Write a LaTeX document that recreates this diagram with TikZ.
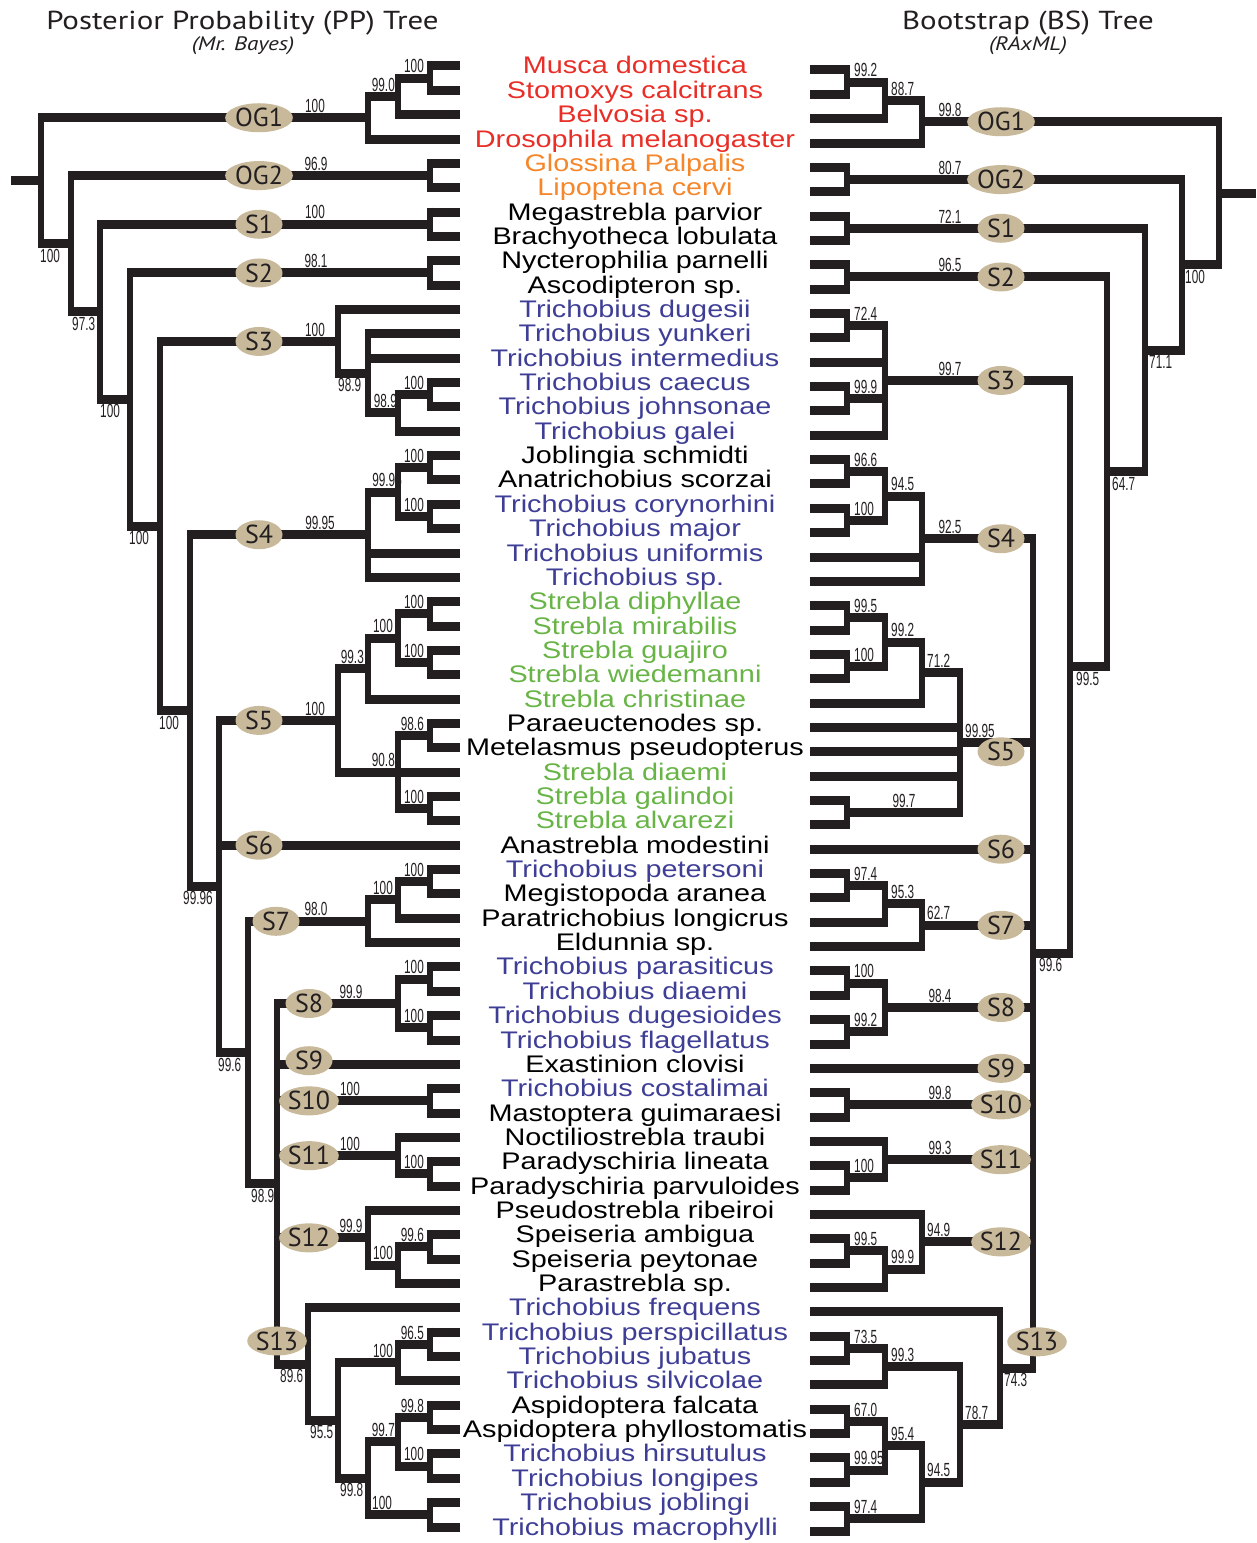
\documentclass[tikz,border=0pt]{standalone}
\usepackage{fontspec}
\setmainfont{Liberation Sans}
\newfontfamily\taxfont[FakeStretch=1.2]{Liberation Sans}
\newfontfamily\bsfont[FakeStretch=0.62]{Liberation Sans}
\newfontfamily\headfont[FakeStretch=1.19]{PT Sans}
\newfontfamily\grpfont{PT Sans}
\usetikzlibrary{shapes.geometric}
\definecolor{pred}{RGB}{232,46,38}
\definecolor{porange}{RGB}{245,134,42}
\definecolor{pblue}{RGB}{62,62,150}
\definecolor{pgreen}{RGB}{104,180,70}
\definecolor{ptan}{RGB}{200,185,155}
\definecolor{inkc}{RGB}{35,31,32}
\tikzset{
    hbr/.style={line width=9pt, color=inkc},
    vbr/.style={line width=6pt, color=inkc, shorten <=-4.5pt, shorten >=-4.5pt},
    lbl/.style={font=\bsfont\fontsize{19}{19}\selectfont, inner sep=1pt, text=inkc},
    ul/.style={lbl, anchor=south east, yshift=4pt},
    ur/.style={lbl, anchor=south west, yshift=4pt},
    ab/.style={lbl, anchor=south, yshift=4pt},
    bl/.style={lbl, anchor=north west, yshift=-4pt},
    grp/.style={ellipse, fill=ptan, minimum width=47pt, minimum height=29pt, inner sep=0pt,
        font=\grpfont\fontsize{26}{26}\selectfont, text=inkc},
    taxon/.style={font=\taxfont\fontsize{24}{24}\selectfont, anchor=base, yshift=-8pt, inner sep=0pt},
    head/.style={font=\headfont\fontsize{26}{26}\selectfont, anchor=base, text=inkc},
    subhead/.style={font=\headfont\itshape\fontsize{19.5}{19.5}\selectfont, anchor=base, text=inkc}
}
\begin{document}
\begin{tikzpicture}[x=1pt, y=-24.35pt]
\useasboundingbox (0,-1.7105) rectangle (1256,61.657);

% titles
\node[head] (pptitle) at (242.5,-0.507) {Posterior Probability (PP) Tree};
\node[subhead] (ppsub) at (243,0.384) {(Mr. Bayes)};
\node[head] (bstitle) at (1028,-0.507) {Bootstrap (BS) Tree};
\node[subhead] (bssub) at (1028,0.384) {(RAxML)};

% taxa
\foreach \c/\t [count=\i] in {pred/Musca domestica, pred/Stomoxys calcitrans, pred/Belvosia sp.,
    pred/Drosophila melanogaster, porange/Glossina Palpalis, porange/Lipoptena cervi,
    black/Megastrebla parvior, black/Brachyotheca lobulata, black/Nycterophilia parnelli,
    black/Ascodipteron sp., pblue/Trichobius dugesii, pblue/Trichobius yunkeri,
    pblue/Trichobius intermedius, pblue/Trichobius caecus, pblue/Trichobius johnsonae,
    pblue/Trichobius galei, black/Joblingia schmidti, black/Anatrichobius scorzai,
    pblue/Trichobius corynorhini, pblue/Trichobius major, pblue/Trichobius uniformis,
    pblue/Trichobius sp., pgreen/Strebla diphyllae, pgreen/Strebla mirabilis,
    pgreen/Strebla guajiro, pgreen/Strebla wiedemanni, pgreen/Strebla christinae,
    black/Paraeuctenodes sp., black/Metelasmus pseudopterus, pgreen/Strebla diaemi,
    pgreen/Strebla galindoi, pgreen/Strebla alvarezi, black/Anastrebla modestini,
    pblue/Trichobius petersoni, black/Megistopoda aranea, black/Paratrichobius longicrus,
    black/Eldunnia sp., pblue/Trichobius parasiticus, pblue/Trichobius diaemi,
    pblue/Trichobius dugesioides, pblue/Trichobius flagellatus, black/Exastinion clovisi,
    pblue/Trichobius costalimai, black/Mastoptera guimaraesi, black/Noctiliostrebla traubi,
    black/Paradyschiria lineata, black/Paradyschiria parvuloides, black/Pseudostrebla ribeiroi,
    black/Speiseria ambigua, black/Speiseria peytonae, black/Parastrebla sp.,
    pblue/Trichobius frequens, pblue/Trichobius perspicillatus, pblue/Trichobius jubatus,
    pblue/Trichobius silvicolae, black/Aspidoptera falcata, black/Aspidoptera phyllostomatis,
    pblue/Trichobius hirsutulus, pblue/Trichobius longipes, pblue/Trichobius joblingi,
    pblue/Trichobius macrophylli}
    \node[taxon, text=\c] (t\i) at (635,\i) {\t};

% ---------------- PP tree (left) ----------------
% supports
\node[ul] at (425,1.5) {100};
\node[ul] at (396,2.25) {99.0};
\node[ab] at (315,3.125) {100};
\node[ab] at (316,5.5) {96.9};
\node[ab] at (315,7.5) {100};
\node[ab] at (316,9.5) {98.1};
\node[bl] at (39,8.299) {100};
\node[bl] at (71,11.098) {97.3};
\node[bl] at (99,14.696) {100};
\node[bl] at (128,19.893) {100};
\node[bl] at (158,27.473) {100};
\node[bl] at (182,34.695) {99.96};
\node[bl] at (217,41.516) {99.6};
\node[bl] at (250,46.906) {98.9};
\node[bl] at (279,54.3125) {89.6};
\node[bl] at (309,56.625) {95.5};
\node[bl] at (339,59) {99.8};
\node[ab] at (315,12.3125) {100};
\node[bl] at (337,13.625) {98.9};
\node[ul] at (398,15.25) {98.9};
\node[ul] at (425,14.5) {100};
\node[ul] at (425,17.5) {100};
\node[ul] at (403,18.5) {99.95};
\node[ul] at (425,19.5) {100};
\node[ab] at (320,20.25) {99.95};
\node[ul] at (425,23.5) {100};
\node[ul] at (394,24.5) {100};
\node[ul] at (425,25.5) {100};
\node[ul] at (365,25.75) {99.3};
\node[ab] at (315,27.875) {100};
\node[ul] at (425,28.5) {98.6};
\node[ul] at (396,30) {90.8};
\node[ul] at (425,31.5) {100};
\node[ul] at (425,34.5) {100};
\node[ul] at (394,35.25) {100};
\node[ab] at (316,36.125) {98.0};
\node[ul] at (425,38.5) {100};
\node[ul] at (425,40.5) {100};
\node[ab] at (351,39.5) {99.9};
\node[ab] at (350,43.5) {100};
\node[ab] at (350,45.75) {100};
\node[ul] at (425,46.5) {100};
\node[ab] at (351,49.125) {99.9};
\node[ul] at (425,49.5) {99.6};
\node[ul] at (394,50.25) {100};
\node[ul] at (425,53.5) {96.5};
\node[ul] at (394,54.25) {100};
\node[ul] at (425,56.5) {99.8};
\node[ul] at (396,57.5) {99.7};
\node[ul] at (425,58.5) {100};
\node[ur] at (371,60.5) {100};

% tips
\foreach \r in {1,2,5,6,7,8,9,10,14,15,17,18,19,20,23,24,25,26,28,29,31,32,34,35,
    38,39,40,41,43,44,46,47,49,50,53,54,56,57,58,59,60,61}
    \draw[hbr] (430,\r) -- (460,\r);
\foreach \r in {3,16,30,36,45,51,55}
    \draw[hbr] (398,\r) -- (460,\r);
\foreach \r in {4,12,13,21,22,27,37,48}
    \draw[hbr] (368,\r) -- (460,\r);
\draw[hbr] (338,11) -- (460,11);
\draw[hbr] (308,52) -- (460,52);
\draw[hbr] (219,33) -- (460,33);
\draw[hbr] (277,42) -- (460,42);
% inner branches
\foreach \xa/\xb/\y in {398/430/1.5, 398/430/14.5, 398/430/17.5, 398/430/19.5, 398/430/23.5,
    398/430/25.5, 398/430/28.5, 398/430/31.5, 398/430/34.5, 398/430/38.5, 398/430/40.5,
    398/430/46.5, 398/430/49.5, 398/430/53.5, 398/430/56.5, 398/430/58.5, 368/430/60.5,
    71/430/5.5, 100/430/7.5, 130/430/9.5, 277/430/43.5,
    368/398/2.25, 368/398/15.25, 368/398/18.5, 368/398/24.5, 368/398/35.25, 368/398/50.25,
    368/398/57.5, 338/398/30, 338/398/54.25, 277/398/39.5, 277/398/45.75,
    41/368/3.125, 338/368/13.625, 338/368/25.75, 338/368/59, 190/368/20.25, 248/368/36.125,
    277/368/49.125, 160/338/12.3125, 219/338/27.875, 308/338/56.625, 277/308/54.3125,
    248/277/46.906, 219/248/41.516, 190/219/34.695, 160/190/27.473, 130/160/19.893,
    100/130/14.696, 71/100/11.098, 41/71/8.299, 11/41/5.712}
    \draw[hbr] (\xa,\y) -- (\xb,\y);
\foreach \r in {1,5,7,9,14,17,19,23,25,28,31,34,38,40,43,46,49,53,56,58,60}
    \draw[vbr] (430,\r) -- (430,{\r+1});
\foreach \x/\a/\b in {398/1.5/3, 398/14.5/16, 398/17.5/19.5, 398/23.5/25.5, 398/28.5/31.5,
    398/34.5/36, 398/38.5/40.5, 398/45/46.5, 398/49.5/51, 398/53.5/55, 398/56.5/58.5,
    368/2.25/4, 368/12/15.25, 368/18.5/22, 368/24.5/27, 368/35.25/37, 368/48/50.25,
    368/57.5/60.5, 338/11/13.625, 338/25.75/30, 338/54.25/59, 308/52/56.625,
    277/39.5/54.3125, 248/36.125/46.906, 219/27.875/41.516, 190/20.25/34.695,
    160/12.3125/27.473, 130/9.5/19.893, 100/7.5/14.696, 71/5.5/11.098, 41/3.125/8.299}
    \draw[vbr] (\x,\a) -- (\x,\b);
% clades
\node[grp] (ppOG1) at (259,3.125) {OG1};
\node[grp] (ppOG2) at (259,5.5) {OG2};
\node[grp] (ppS1) at (259,7.5) {S1};
\node[grp] (ppS2) at (259,9.5) {S2};
\node[grp] (ppS3) at (259,12.3125) {S3};
\node[grp] (ppS4) at (259,20.25) {S4};
\node[grp] (ppS5) at (259,27.875) {S5};
\node[grp] (ppS6) at (259,33) {S6};
\node[grp] (ppS7) at (276,36.125) {S7};
\node[grp] (ppS8) at (309,39.5) {S8};
\node[grp] (ppS9) at (309,41.85) {S9};
\node[grp] (ppS10) at (309,43.5) {S10};
\node[grp] (ppS11) at (309,45.75) {S11};
\node[grp] (ppS12) at (309,49.125) {S12};
\node[grp] (ppS13) at (277,53.36) {S13};

% ---------------- BS tree (right) ----------------
\begin{scope}[yshift=-4pt]
% supports
\node[ur] at (853,1.5) {99.2};
\node[ur] at (890,2.25) {88.7};
\node[ab] at (950,3.125) {99.8};
\node[ab] at (950,5.5) {80.7};
\node[ab] at (950,7.5) {72.1};
\node[ab] at (950,9.5) {96.5};
\node[bl] at (1184,9.002) {100};
\node[bl] at (1148,12.504) {71.1};
\node[bl] at (1111,17.508) {64.7};
\node[bl] at (1075,25.516) {99.5};
\node[bl] at (1038,37.281) {99.6};
\node[bl] at (1003,54.3125) {74.3};
\node[ur] at (853,11.5) {72.4};
\node[ur] at (853,14.5) {99.9};
\node[ab] at (950,13.75) {99.7};
\node[ur] at (853,17.5) {96.6};
\node[ur] at (890,18.5) {94.5};
\node[ur] at (853,19.5) {100};
\node[ab] at (950,20.25) {92.5};
\node[ur] at (853,23.5) {99.5};
\node[ur] at (890,24.5) {99.2};
\node[ur] at (853,25.5) {100};
\node[ur] at (926,25.75) {71.2};
\node[ur] at (964,28.625) {99.95};
\node[ab] at (904,31.5) {99.7};
\node[ur] at (853,34.5) {97.4};
\node[ur] at (890,35.25) {95.3};
\node[ur] at (926,36.125) {62.7};
\node[ur] at (853,38.5) {100};
\node[ur] at (853,40.5) {99.2};
\node[ab] at (940,39.5) {98.4};
\node[ab] at (940,43.5) {99.8};
\node[ab] at (940,45.75) {99.3};
\node[ur] at (853,46.5) {100};
\node[ur] at (926,49.125) {94.9};
\node[ur] at (853,49.5) {99.5};
\node[ur] at (890,50.25) {99.9};
\node[ur] at (853,53.5) {73.5};
\node[ur] at (890,54.25) {99.3};
\node[ur] at (964,56.625) {78.7};
\node[ur] at (853,56.5) {67.0};
\node[ur] at (890,57.5) {95.4};
\node[ur] at (853,58.5) {99.95};
\node[ur] at (926,59) {94.5};
\node[ur] at (853,60.5) {97.4};

% tips
\foreach \r in {1,2,5,6,7,8,9,10,11,12,14,15,17,18,19,20,23,24,25,26,31,32,34,35,
    38,39,40,41,43,44,46,47,49,50,53,54,56,57,58,59,60,61}
    \draw[hbr] (810,\r) -- (847,\r);
\foreach \r in {3,13,16,36,45,51,55}
    \draw[hbr] (810,\r) -- (885,\r);
\foreach \r in {4,21,22,27,37,48}
    \draw[hbr] (810,\r) -- (922,\r);
\foreach \r in {28,29,30}
    \draw[hbr] (810,\r) -- (960,\r);
\draw[hbr] (810,52) -- (1000,52);
\draw[hbr] (810,33) -- (1033,33);
\draw[hbr] (810,42) -- (1033,42);
% inner branches
\foreach \xa/\xb/\y in {847/885/1.5, 847/885/11.5, 847/885/14.5, 847/885/17.5, 847/885/19.5,
    847/885/23.5, 847/885/25.5, 847/885/34.5, 847/885/38.5, 847/885/40.5, 847/885/46.5,
    847/885/49.5, 847/885/53.5, 847/885/56.5, 847/885/58.5, 847/960/31.5, 847/922/60.5,
    847/1182/5.5, 847/1145/7.5, 847/1107/9.5, 847/1033/43.5,
    885/922/2.25, 885/922/18.5, 885/922/24.5, 885/922/35.25, 885/922/50.25, 885/922/57.5,
    885/960/54.25, 885/1070/13.75, 885/1033/39.5, 885/1033/45.75,
    922/1219/3.125, 922/1033/20.25, 922/1033/36.125, 922/1033/49.125, 922/960/25.75,
    922/960/59, 960/1033/28.625, 960/1000/56.625, 1000/1033/54.3125,
    1033/1070/37.281, 1070/1107/25.516, 1107/1145/17.508, 1145/1182/12.504,
    1182/1219/9.002, 1219/1256/6.064}
    \draw[hbr] (\xa,\y) -- (\xb,\y);
\foreach \r in {1,5,7,9,11,14,17,19,23,25,31,34,38,40,43,46,49,53,56,58,60}
    \draw[vbr] (847,\r) -- (847,{\r+1});
\foreach \x/\a/\b in {885/1.5/3, 885/11.5/16, 885/17.5/19.5, 885/23.5/25.5, 885/34.5/36,
    885/38.5/40.5, 885/45/46.5, 885/49.5/51, 885/53.5/55, 885/56.5/58.5,
    922/2.25/4, 922/18.5/22, 922/24.5/27, 922/35.25/37, 922/48/50.25, 922/57.5/60.5,
    960/25.75/31.5, 960/54.25/59, 1000/52/56.625, 1033/20.25/54.3125,
    1070/13.75/37.281, 1107/9.5/25.516, 1145/7.5/17.508, 1182/5.5/12.504, 1219/3.125/9.002}
    \draw[vbr] (\x,\a) -- (\x,\b);
% clades
\node[grp] (bsOG1) at (1001,3.125) {OG1};
\node[grp] (bsOG2) at (1001,5.5) {OG2};
\node[grp] (bsS1) at (1001,7.5) {S1};
\node[grp] (bsS2) at (1001,9.5) {S2};
\node[grp] (bsS3) at (1001,13.75) {S3};
\node[grp] (bsS4) at (1001,20.25) {S4};
\node[grp] (bsS5) at (1001,29) {S5};
\node[grp] (bsS6) at (1001,33) {S6};
\node[grp] (bsS7) at (1001,36.125) {S7};
\node[grp] (bsS8) at (1001,39.5) {S8};
\node[grp] (bsS9) at (1001,42) {S9};
\node[grp] (bsS10) at (1001,43.5) {S10};
\node[grp] (bsS11) at (1001,45.75) {S11};
\node[grp] (bsS12) at (1001,49.125) {S12};
\node[grp] (bsS13) at (1037,53.23) {S13};
\end{scope}
\end{tikzpicture}
\end{document}
